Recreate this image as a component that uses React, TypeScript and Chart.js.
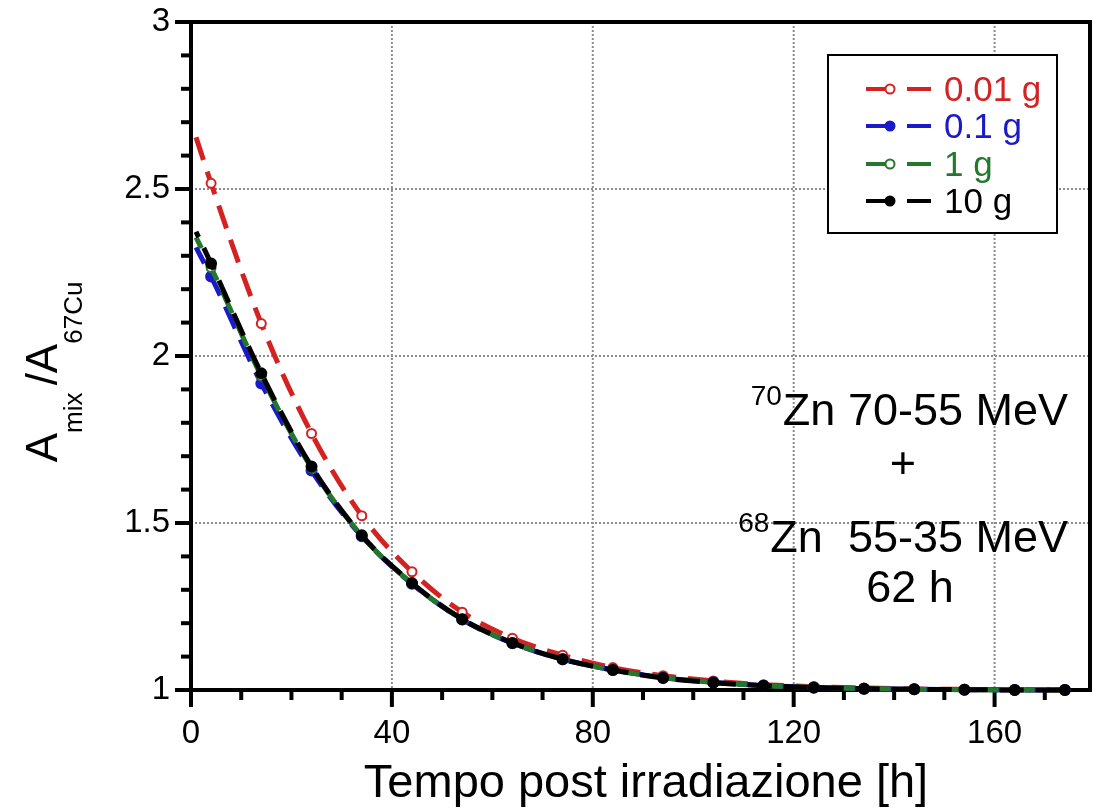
import React, { useEffect, useRef } from 'react';
import { Chart, registerables } from 'chart.js';

Chart.register(...registerables);

const FONT = '"Liberation Sans", Arial, Helvetica, sans-serif';

// Time after irradiation [h]
const hours = [1, 4, 14, 24, 34, 44, 54, 64, 74, 84, 94, 104, 114, 124, 134, 144, 154, 164, 174];

// A_mix / A_67Cu for each target mass
const ratio001g = [2.655, 2.517, 2.097, 1.768, 1.522, 1.354, 1.233, 1.155, 1.104, 1.067, 1.043, 1.027, 1.016, 1.010, 1.006, 1.003, 1.002, 1.001, 1.000];
const ratio01g = [2.325, 2.238, 1.918, 1.657, 1.460, 1.318, 1.211, 1.140, 1.092, 1.060, 1.037, 1.023, 1.013, 1.008, 1.004, 1.002, 1.001, 1.000, 1.000];
const ratio1g = [2.355, 2.265, 1.940, 1.665, 1.462, 1.319, 1.212, 1.141, 1.093, 1.060, 1.037, 1.023, 1.013, 1.008, 1.004, 1.002, 1.001, 1.000, 1.000];
const ratio10g = [2.372, 2.277, 1.948, 1.669, 1.463, 1.320, 1.212, 1.141, 1.092, 1.060, 1.036, 1.022, 1.013, 1.007, 1.004, 1.002, 1.001, 1.000, 1.000];

const seriesLabels = ['0.01 g', '0.1 g', '1 g', '10 g'];
const seriesColors = ['#d42222', '#1a1ac8', '#24782c', '#000000'];
const seriesHollow = [true, false, true, false];

const xTickValues = [0, 40, 80, 120, 160];
const xTickLabels = ['0', '40', '80', '120', '160'];
const yTickValues = [1, 1.5, 2, 2.5, 3];
const yTickLabels = ['1', '1.5', '2', '2.5', '3'];
const xGridValues = [40, 80, 120, 160];
const yGridValues = [1.5, 2, 2.5];

const xTitle = 'Tempo post irradiazione [h]';
const annotationLines = [
  { sup: '70', text: 'Zn 70-55 MeV' },
  { sup: '', text: '+' },
  { sup: '68', text: 'Zn  55-35 MeV' },
  { sup: '', text: '62 h' },
];

function line(ctx: CanvasRenderingContext2D, x1: number, y1: number, x2: number, y2: number) {
  ctx.beginPath();
  ctx.moveTo(x1, y1);
  ctx.lineTo(x2, y2);
  ctx.stroke();
}

const framePlugin = {
  id: 'framePlugin',
  beforeDatasetsDraw(chart: any) {
    const { ctx, chartArea: a, scales } = chart;
    const xs = scales.x;
    const ys = scales.y;
    ctx.save();
    // dotted grid
    ctx.strokeStyle = '#8c8c8c';
    ctx.lineWidth = 2;
    ctx.setLineDash([2, 2]);
    xGridValues.forEach((v) => {
      const px = xs.getPixelForValue(v);
      line(ctx, px, a.top, px, a.bottom);
    });
    yGridValues.forEach((v) => {
      const py = ys.getPixelForValue(v);
      line(ctx, a.left, py, a.right, py);
    });
    ctx.setLineDash([]);
    // frame
    ctx.strokeStyle = '#000';
    ctx.lineWidth = 4;
    ctx.strokeRect(a.left, a.top, a.right - a.left, a.bottom - a.top);
    // x ticks
    for (let v = 0; v <= 170; v += 10) {
      const px = xs.getPixelForValue(v);
      const len = v % 40 === 0 ? 17 : 10;
      line(ctx, px, a.bottom, px, a.bottom + len);
    }
    // y ticks
    for (let k = 0; k <= 20; k++) {
      const py = ys.getPixelForValue(1 + k * 0.1);
      const len = k % 5 === 0 ? 16 : 10;
      line(ctx, a.left - len, py, a.left, py);
    }
    ctx.restore();
  },
  afterDraw(chart: any) {
    const { ctx, chartArea: a } = chart;
    ctx.save();

    // Legend box
    const lx = 828, ly = 55, lw = 229, lh = 178;
    ctx.fillStyle = '#fff';
    ctx.fillRect(lx, ly, lw, lh);
    ctx.strokeStyle = '#000';
    ctx.lineWidth = 2;
    ctx.strokeRect(lx, ly, lw, lh);
    const rowY = [89, 126, 164, 201];
    seriesLabels.forEach((label, i) => {
      const y = rowY[i];
      const c = seriesColors[i];
      ctx.strokeStyle = c;
      ctx.lineWidth = 4;
      line(ctx, 866, y, 890, y);
      line(ctx, 907, y, 931, y);
      ctx.beginPath();
      ctx.arc(890, y, 4.5, 0, Math.PI * 2);
      ctx.fillStyle = seriesHollow[i] ? '#fff' : c;
      ctx.fill();
      ctx.lineWidth = 2;
      ctx.stroke();
      ctx.fillStyle = c;
      ctx.font = `35px ${FONT}`;
      ctx.textAlign = 'left';
      ctx.textBaseline = 'middle';
      ctx.fillText(label, 944, y + 2);
    });

    // Annotation
    ctx.fillStyle = '#000';
    ctx.textBaseline = 'alphabetic';
    const bigFont = `45px ${FONT}`;
    const supFont = `28px ${FONT}`;
    const drawSupLine = (sup: string, text: string, right: number, base: number) => {
      ctx.font = bigFont;
      ctx.textAlign = 'right';
      ctx.fillText(text, right, base);
      const w = ctx.measureText(text).width;
      ctx.font = supFont;
      ctx.fillText(sup, right - w - 1, base - 20);
    };
    drawSupLine(annotationLines[0].sup, annotationLines[0].text, 1068, 425);
    ctx.font = bigFont;
    ctx.textAlign = 'center';
    ctx.fillText(annotationLines[1].text, 903, 478);
    drawSupLine(annotationLines[2].sup, annotationLines[2].text, 1068, 552);
    ctx.font = bigFont;
    ctx.textAlign = 'center';
    ctx.fillText(annotationLines[3].text, 910, 602);

    // X title
    ctx.font = `47px ${FONT}`;
    ctx.textAlign = 'center';
    ctx.fillText(xTitle, 646, 797);

    // Y title with subscripts
    ctx.save();
    ctx.translate(57, 372);
    ctx.rotate(-Math.PI / 2);
    const parts = [
      { t: 'A', f: `44px ${FONT}`, dy: 0 },
      { t: 'mix ', f: `26px ${FONT}`, dy: 25 },
      { t: '/A', f: `44px ${FONT}`, dy: 0 },
      { t: '67Cu', f: `26px ${FONT}`, dy: 25 },
    ];
    let total = 0;
    parts.forEach((p) => {
      ctx.font = p.f;
      total += ctx.measureText(p.t).width;
    });
    let cx = -total / 2;
    ctx.textAlign = 'left';
    parts.forEach((p) => {
      ctx.font = p.f;
      ctx.fillText(p.t, cx, p.dy);
      cx += ctx.measureText(p.t).width;
    });
    ctx.restore();

    ctx.restore();
  },
};

export default function App() {
  const canvasRef = useRef<HTMLCanvasElement | null>(null);

  useEffect(() => {
    const canvas = canvasRef.current;
    if (!canvas) return;
    const seriesData = [ratio001g, ratio01g, ratio1g, ratio10g];
    // dataset 0 is drawn on top; put 10 g first
    const drawOrder = [3, 2, 1, 0];
    const datasets = drawOrder.map((si) => ({
      label: seriesLabels[si],
      data: hours.map((h, i) => ({ x: h, y: seriesData[si][i] })),
      borderColor: seriesColors[si],
      backgroundColor: seriesColors[si],
      borderWidth: 5,
      borderDash: [24, 12],
      borderDashOffset: si * 6,
      cubicInterpolationMode: 'monotone' as const,
      fill: false,
      clip: false as any,
      pointRadius: hours.map((_, i) => (i === 0 ? 0 : seriesHollow[si] ? 4.5 : 5)),
      pointHoverRadius: hours.map((_, i) => (i === 0 ? 0 : seriesHollow[si] ? 4.5 : 5)),
      pointBackgroundColor: seriesHollow[si] ? '#ffffff' : seriesColors[si],
      pointBorderColor: seriesColors[si],
      pointBorderWidth: 2,
    }));

    const chart = new Chart(canvas, {
      type: 'line',
      data: { datasets },
      options: {
        responsive: false,
        animation: false,
        devicePixelRatio: 1,
        layout: { padding: { left: 0, top: 22, right: 5, bottom: 0 } },
        plugins: {
          legend: { display: false },
          tooltip: { enabled: false },
          title: { display: false },
        },
        events: [],
        scales: {
          x: {
            type: 'linear',
            min: 0,
            max: 179,
            afterBuildTicks: (scale: any) => {
              scale.ticks = xTickValues.map((v) => ({ value: v }));
            },
            afterFit: (scale: any) => {
              scale.height = 122;
              scale.paddingLeft = 0;
              scale.paddingRight = 0;
              scale.paddingTop = 0;
              scale.paddingBottom = 0;
            },
            ticks: {
              autoSkip: false,
              maxRotation: 0,
              minRotation: 0,
              padding: 24,
              color: '#000',
              font: { family: FONT, size: 33 },
              callback: (_v: any, i: number) => xTickLabels[i],
            },
            grid: { display: false, drawTicks: false, tickLength: 0 },
            border: { display: false },
          },
          y: {
            type: 'linear',
            min: 1,
            max: 3,
            afterBuildTicks: (scale: any) => {
              scale.ticks = yTickValues.map((v) => ({ value: v }));
            },
            afterFit: (scale: any) => {
              scale.width = 191;
              scale.paddingLeft = 0;
              scale.paddingRight = 0;
              scale.paddingTop = 0;
              scale.paddingBottom = 0;
            },
            ticks: {
              autoSkip: false,
              padding: 21,
              color: '#000',
              font: { family: FONT, size: 33 },
              callback: (_v: any, i: number) => yTickLabels[i],
            },
            grid: { display: false, drawTicks: false, tickLength: 0 },
            border: { display: false },
          },
        },
      },
      plugins: [framePlugin],
    });

    return () => {
      chart.destroy();
    };
  }, []);

  return (
    <div style={{ position: 'absolute', left: 0, top: 0, width: 1097, height: 812, background: '#fff' }}>
      <canvas ref={canvasRef} width={1097} height={812} style={{ display: 'block' }} />
    </div>
  );
}
